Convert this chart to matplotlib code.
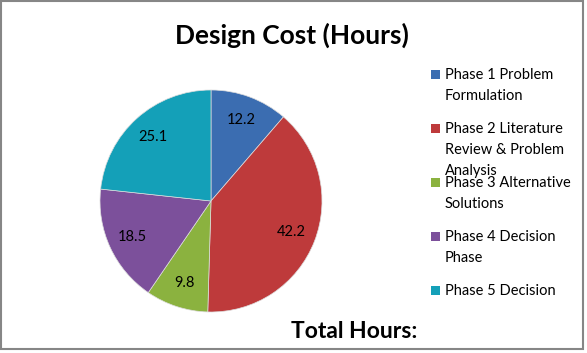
import matplotlib.pyplot as plt
from matplotlib.patches import Rectangle

# chart data
phases = ['Phase 1 Problem\nFormulation',
          'Phase 2 Literature\nReview & Problem\nAnalysis',
          'Phase 3 Alternative\nSolutions',
          'Phase 4 Decision\nPhase',
          'Phase 5 Decision']
hours = [12.2, 42.2, 9.8, 18.5, 25.1]
colors = ['#3B6DB1', '#BE3A3B', '#8BB23F', '#7C509B', '#14A0B8']

plt.rcParams['font.family'] = ['Lato', 'DejaVu Sans']

W, H = 587, 353
fig = plt.figure(figsize=(W / 100, H / 100), dpi=100)

# outer chart border
fig.patches.append(Rectangle((1 / W, 4 / H), 582 / W, 348 / H, transform=fig.transFigure,
                             fill=False, edgecolor='#868686', linewidth=1.5))

ax = fig.add_axes([100 / W, 41 / H, 222 / W, 222 / H])
total = sum(hours)
wedges, texts, autotexts = ax.pie(hours, colors=colors, startangle=90, counterclock=False,
                                  autopct=lambda p: f'{p * total / 100:.1f}', pctdistance=0.78,
                                  wedgeprops=dict(edgecolor='#dddddd', linewidth=0.5),
                                  textprops=dict(fontsize=10.5, color='black'))
ax.set_xlim(-1, 1)
ax.set_ylim(-1, 1)
ax.set_aspect('equal')

fig.text(292 / W, 1 - 35 / H, 'Design Cost (Hours)', ha='center', va='center',
         fontsize=19, fontweight='bold')
fig.text(291 / W, 1 - 331 / H, 'Total Hours:', ha='left', va='center',
         fontsize=16.5, fontweight='bold')

# legend drawn by hand so entries overlap like the original
for i, (lab, c) in enumerate(zip(phases, colors)):
    y = 75 + i * 54
    fig.patches.append(Rectangle((431 / W, 1 - (y + 4) / H), 9 / W, 9 / H,
                                 transform=fig.transFigure, facecolor=c, edgecolor='none'))
    fig.text(445 / W, 1 - (y - 7) / H, lab, ha='left', va='top', fontsize=10.5,
             linespacing=1.62)

fig.savefig('out.png', dpi=100)
